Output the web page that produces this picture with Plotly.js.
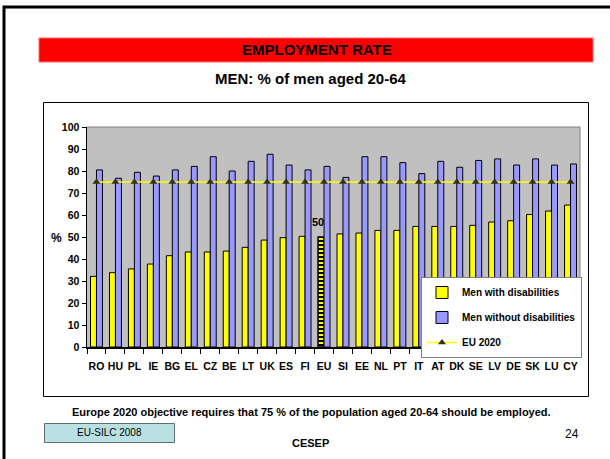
<!DOCTYPE html>
<html><head><meta charset="utf-8">
<script src="https://cdn.plot.ly/plotly-3.0.1.min.js"></script>
<style>html,body{margin:0;padding:0;background:#fff;}#chart{width:610px;height:459px;}</style>
</head><body><div id="chart"></div>
<script>
const countries = ["RO","HU","PL","IE","BG","EL","CZ","BE","LT","UK","ES","FI","EU","SI","EE","NL","PT","IT","AT","DK","SE","LV","DE","SK","LU","CY"];
const withDisab = [32.1,33.8,35.5,37.7,41.5,43.2,43.2,43.6,45.3,48.6,49.7,50.3,50,51.4,51.8,53,53,54.8,54.8,54.8,55.3,56.8,57.4,60.2,61.8,64.5];
const withoutDisab = [80.5,76.7,79.4,77.7,80.5,82.1,86.5,80,84.4,87.6,82.7,80.5,82.1,77.1,86.5,86.5,83.8,78.8,84.4,81.7,84.8,85.5,82.7,85.5,82.7,83.2];
const eu2020 = countries.map(() => 75);
const highlight = "EU";
const hiIdx = countries.indexOf(highlight);

const L=87, R=580, T=127, B=347;
const fx = p => (p-L)/(R-L);
const fy = p => (B-p)/(B-T);
const FONT = '"Liberation Sans",Arial,sans-serif';

const traces = [
  {type:'bar', name:'Men with disabilities', x:countries, y:withDisab, legendgroup:'a',
   marker:{color:'#FFFF00', line:{color:'#000000', width:countries.map(c=>c===highlight?1.5:1)},
     pattern:{shape:countries.map(c=>c===highlight?'-':''), fgcolor:'#000000', bgcolor:'#FFFF00', size:4, solidity:0.5}}},
  {type:'bar', name:'Men without disabilities', x:countries, y:withoutDisab, legendgroup:'b',
   marker:{color:'#9999FF', line:{color:'#000000', width:1}}},
  {type:'scatter', mode:'lines+markers', name:'EU 2020', x:countries, y:eu2020, legendgroup:'c',
   line:{color:'#FFFF00', width:1.5}, marker:{symbol:'triangle-up', size:7, color:'#333300'}}
];

const shapes = [
  {type:'rect', xref:'paper', yref:'paper', x0:fx(4), x1:fx(620), y0:fy(7), y1:fy(470), line:{color:'#000', width:3}},
  {type:'rect', xref:'paper', yref:'paper', x0:fx(39), x1:fx(593), y0:fy(38), y1:fy(62), fillcolor:'#FF0000', line:{color:'#FF6666', width:1}},
  {type:'rect', xref:'paper', yref:'paper', x0:fx(43.5), x1:fx(588.5), y0:fy(102.5), y1:fy(396.5), line:{color:'#000', width:1}},
  {type:'rect', xref:'paper', yref:'paper', x0:fx(44.5), x1:fx(174.5), y0:fy(423.5), y1:fy(442.5), fillcolor:'#B9E0E2', line:{color:'#607070', width:1}},
  {type:'line', xref:'paper', yref:'paper', x0:0, x1:1, y0:1, y1:1, line:{color:'#808080', width:1}},
  {type:'line', xref:'paper', yref:'paper', x0:1, x1:1, y0:0, y1:1, line:{color:'#808080', width:1}}
];

const ann = (text, x, y, size, bold) => ({
  text: bold?'<b>'+text+'</b>':text, xref:'paper', yref:'paper', x:fx(x), y:fy(y),
  xanchor:'center', yanchor:'middle', showarrow:false, font:{family:FONT, size:size, color:'#000'}});

const annotations = [
  ann('EMPLOYMENT RATE', 317, 50, 15, true),
  ann('MEN: % of men aged 20-64', 311, 79, 15, true),
  ann('%', 56, 238, 12, true),
  ann('Europe 2020 objective requires that 75 % of the population aged 20-64 should be employed.', 311, 412, 11, true),
  ann('EU-SILC 2008', 109.5, 432, 10, false),
  ann('CESEP', 310, 443, 11, true),
  ann('24', 571.5, 434, 12, false),
  {text:'<b>'+withDisab[hiIdx]+'</b>', x:highlight, y:withDisab[hiIdx], xref:'x', yref:'y', showarrow:false,
   xanchor:'center', yanchor:'bottom', xshift:-6, yshift:7, font:{family:FONT, size:11, color:'#000'}}
];

const layout = {
  width:610, height:459, margin:{l:L, r:610-R, t:T, b:459-B, autoexpand:false},
  paper_bgcolor:'#FFFFFF', plot_bgcolor:'#C0C0C0',
  barmode:'group', bargap:0.37, bargroupgap:0,
  showlegend:true,
  legend:{x:fx(421), y:fy(277), xanchor:'left', yanchor:'top', bgcolor:'#FFFFFF', bordercolor:'#808080', borderwidth:1,
    font:{family:FONT, size:10, color:'#000', weight:'bold'}, tracegroupgap:6, traceorder:'grouped', itemwidth:30},
  xaxis:{type:'category', range:[-0.5, countries.length-0.5], showgrid:false, showline:true, linecolor:'#000', linewidth:1.5, ticks:'outside', ticklen:5, tickcolor:'#000',
    tickson:'boundaries', tickangle:0, ticklabelstandoff:9, tickfont:{family:FONT, size:10.5, color:'#000', weight:'bold'}, zeroline:false, fixedrange:true},
  yaxis:{range:[0,100], dtick:10, showgrid:false, showline:true, linecolor:'#000', linewidth:1.5, ticks:'outside', ticklen:4, tickcolor:'#000',
    tickfont:{family:FONT, size:10.5, color:'#000', weight:'bold'}, zeroline:false, fixedrange:true},
  shapes:shapes, annotations:annotations, font:{family:FONT}
};

Plotly.newPlot('chart', traces, layout, {staticPlot:true, displayModeBar:false});
</script></body></html>
